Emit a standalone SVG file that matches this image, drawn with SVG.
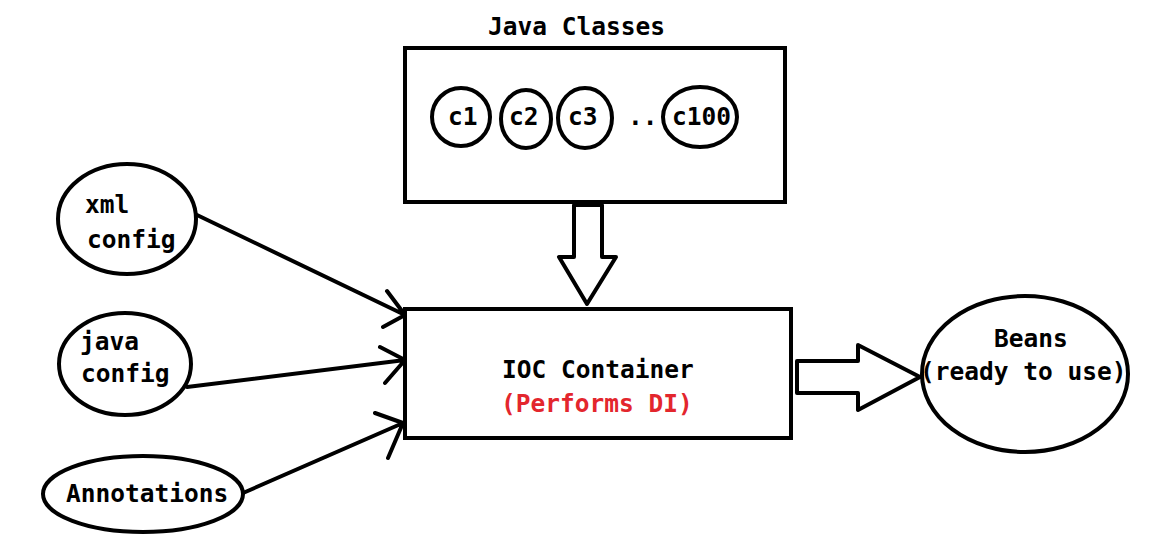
<svg xmlns="http://www.w3.org/2000/svg" width="1174" height="555" viewBox="0 0 1174 555">
<style>
.shape{fill:#fff;stroke:#000;stroke-width:4}
.ln{fill:none;stroke:#000;stroke-width:4;stroke-linecap:round;stroke-linejoin:round}
.t{font-family:"DejaVu Sans Mono","Liberation Mono",monospace;font-weight:bold;font-size:24.5px;fill:#000}
.red{fill:#e3262d}
</style>
<rect width="1174" height="555" fill="#fff"/>
<g id="java-classes">
<text class="t" x="488" y="35">Java Classes</text>
<rect class="shape" x="405" y="48" width="380" height="154"/>
</g>
<g id="c1"><ellipse class="shape" cx="461" cy="117" rx="29" ry="29"/><text class="t" x="448" y="125">c1</text></g>
<g id="c2"><ellipse class="shape" cx="526" cy="119" rx="25" ry="29"/><text class="t" x="509" y="125">c2</text></g>
<g id="c3"><ellipse class="shape" cx="585" cy="118" rx="27" ry="30"/><text class="t" x="568" y="125">c3</text></g>
<g id="dots"><text class="t" x="628" y="125">..</text></g>
<g id="c100"><ellipse class="shape" cx="700" cy="117" rx="37" ry="30"/><text class="t" x="672" y="125">c100</text></g>
<g id="xml-config"><ellipse class="shape" cx="127" cy="219" rx="69" ry="55"/><text class="t" x="85" y="213">xml</text><text class="t" x="87" y="248">config</text></g>
<g id="java-config"><ellipse class="shape" cx="125" cy="364" rx="66" ry="51"/><text class="t" x="80" y="350">java</text><text class="t" x="81" y="382">config</text></g>
<g id="annotations"><ellipse class="shape" cx="143" cy="494" rx="100" ry="38"/><text class="t" x="66" y="502">Annotations</text></g>
<g id="ioc-container">
<rect class="shape" x="405" y="309" width="386" height="129"/>
<text class="t" x="502" y="378">IOC Container</text>
<text class="t red" x="501" y="412">(Performs DI)</text>
</g>
<g id="beans"><ellipse class="shape" cx="1025" cy="374" rx="103" ry="78"/><text class="t" x="994" y="347">Beans</text><text class="t" x="920" y="380">(ready to use)</text></g>
<g id="connectors">
<polygon class="ln" points="574,205 602,205 602,257 616,257 587,304 559,257 574,257"/>
<polygon class="ln" points="797,361 858,361 858,345 920,377 858,410 858,393 797,393"/>
<path class="ln" d="M197,215 L405,315 M387,291 L405,315 L383,327"/>
<path class="ln" d="M187,387 L405,360 M380,347 L405,360 L385,383"/>
<path class="ln" d="M243,493 L403,423 M375,413 L403,423 L388,458"/>
</g>
</svg>
